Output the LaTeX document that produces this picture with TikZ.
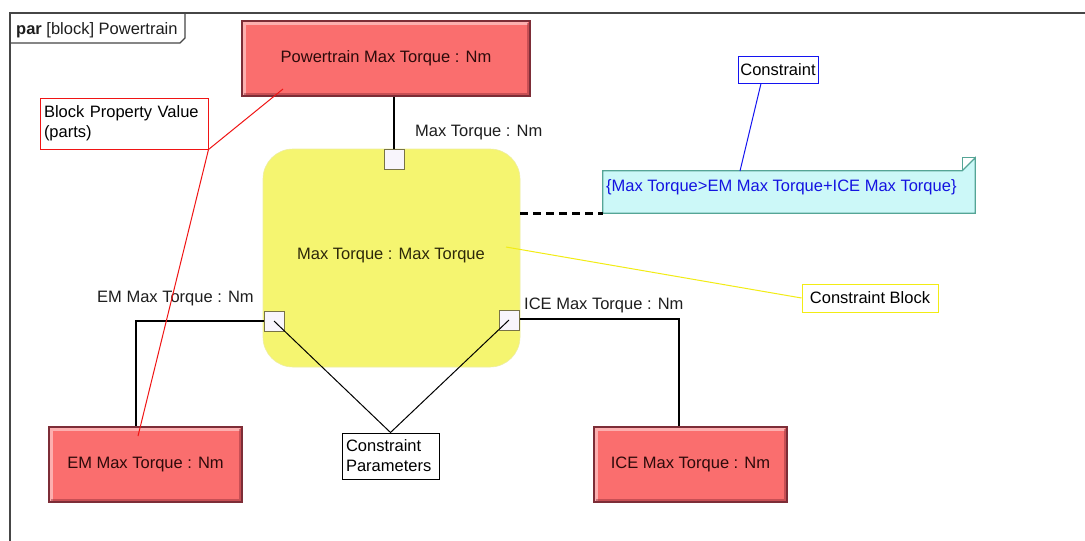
\documentclass[tikz,border=0pt]{standalone}
\usepackage{fontspec}
\setmainfont{Liberation Sans}
\definecolor{framegray}{RGB}{70,70,70}
\definecolor{valuefill}{RGB}{250,110,110}
\definecolor{valueedge}{RGB}{125,45,55}
\definecolor{valueshade}{RGB}{150,50,60}
\definecolor{valuetext}{RGB}{45,10,10}
\definecolor{cbfill}{RGB}{245,245,112}
\definecolor{cbedge}{RGB}{238,238,160}
\definecolor{cbtextc}{RGB}{45,40,10}
\definecolor{portfill}{RGB}{248,245,252}
\definecolor{portedge}{RGB}{120,115,70}
\definecolor{labeltext}{RGB}{30,30,30}
\definecolor{notefill}{RGB}{204,248,248}
\definecolor{noteedge}{RGB}{85,165,150}
\definecolor{notetext}{RGB}{20,20,225}
\definecolor{calred}{RGB}{240,20,20}
\definecolor{calblue}{RGB}{20,20,240}
\definecolor{calyellow}{RGB}{242,236,20}
\begin{document}
\begin{tikzpicture}[x=1pt,y=-1pt,
  every node/.style={font=\fontsize{16.5}{19}\selectfont, inner sep=0pt},
  valuebox/.style={rectangle, fill=valuefill, draw=valueedge, line width=1.2pt,
    minimum width=193pt, minimum height=75pt, text=valuetext,
    path picture={
      \draw[white, opacity=0.45, line width=4pt]
        ([xshift=2pt,yshift=-2pt]path picture bounding box.south west) |-
        ([xshift=-2pt,yshift=-2pt]path picture bounding box.north east);
      \draw[valueshade, opacity=0.5, line width=3pt]
        ([xshift=2pt,yshift=1.5pt]path picture bounding box.south west) -|
        ([xshift=-1.5pt,yshift=-2pt]path picture bounding box.north east);
    }},
  cblock/.style={rectangle, rounded corners=30pt, fill=cbfill, draw=cbedge, line width=0.6pt,
    minimum width=257pt, minimum height=218pt},
  port/.style={rectangle, fill=portfill, draw=portedge, line width=1pt,
    minimum width=20pt, minimum height=20pt},
  wire/.style={draw=black, line width=2.6pt},
  callout/.style={rectangle, fill=white, line width=1pt, align=left},
  plabel/.style={text=labeltext}
]
\useasboundingbox (0,0) rectangle (1085,541);
\fill[white] (0,0) rectangle (1085,541);

% diagram frame and its name tab
\draw[line width=1.6pt, framegray] (10,541) -- (10,13) -- (1085,13);
\draw[line width=1.2pt, framegray] (10,43) -- (180,43) -- (185,38) -- (185,13);
\node[anchor=west, plabel] (tab) at (16,30) {\textbf{par} [block] Powertrain};

% value properties
\node[valuebox, minimum width=288pt] (pt) at (386,58.5) {Powertrain Max Torque : Nm};
\node[valuebox] (em) at (145.5,464.5) {EM Max Torque : Nm};
\node[valuebox] (ice) at (690.5,464.5) {ICE Max Torque : Nm};

% constraint property
\node[cblock] (cb) at (391.5,258) {};
\node[text=cbtextc] (cbtext) at (391,256) {Max Torque : Max Torque};

% binding connectors
\node[port] (ptop) at (394,159) {};
\node[port] (pleft) at (274,321) {};
\node[port] (pright) at (509,320) {};
\draw[wire] (pt.south -| ptop.north) -- (ptop.north);
\draw[wire] (pleft.west) -| ([xshift=-9.5pt]em.north);
\draw[wire] ([yshift=1pt]pright.east) -| ([xshift=-11.5pt]ice.north);
\node[port] at (pleft) {};
\node[port] at (pright) {};
\node[port] at (ptop) {};

\node[anchor=west, plabel] (ltop) at (415,133) {Max Torque : Nm};
\node[anchor=west, plabel] (lem) at (97,299) {EM Max Torque : Nm};
\node[anchor=west, plabel] (lice) at (524,305) {ICE Max Torque : Nm};

% constraint note with folded corner
\node[minimum width=372pt, minimum height=42pt] (note) at (789,192) {};
\filldraw[fill=notefill, draw=noteedge, line width=1.2pt]
  (note.south west) -- (note.north west) -- ([xshift=-13pt]note.north east)
  -- ([yshift=13pt]note.north east) -- (note.south east) -- cycle;
\draw[noteedge, line width=1pt]
  ([xshift=-13pt]note.north east) -- ([xshift=-13pt,yshift=13pt]note.north east) -- ([yshift=13pt]note.north east);
\node[anchor=west, text=notetext] (ntext) at (606,187)
  {\{Max Torque>EM Max Torque+ICE Max Torque\}};
\draw[black, line width=2.6pt, dash pattern=on 8pt off 5pt] (cb.east |- note.south west) -- (note.south west);

% callouts
\node[callout, draw=calred, minimum width=168pt, minimum height=51pt,
  text width=160pt] (bpv) at (124,123.5) {Block Property Value\\[1pt](parts)};
\coordinate (bpvpt) at (283,89);
\coordinate (bpvem) at (138,436);
\draw[calred, line width=1pt] (bpvpt) -- (bpv.south east) -- (bpvem);

\node[callout, draw=calblue, minimum width=80pt, minimum height=27pt, align=center] (con) at (778,69.5) {Constraint};
\coordinate (connote) at (740,171);
\draw[calblue, line width=1pt] ([xshift=-17pt]con.south) -- (connote);

\node[callout, draw=calyellow, minimum width=136pt, minimum height=28pt, align=center] (cbl) at (870,298) {Constraint Block};
\coordinate (cbpt) at (506,247);
\draw[calyellow, line width=1pt] (cbl.west) -- (cbpt);

\node[callout, draw=black, minimum width=97pt, minimum height=46pt, text width=89pt] (cp) at (390.5,456) {Constraint\\[1pt]Parameters};
\draw[black, line width=1pt] (pleft.center) -- (cp.north) -- (pright.center);
\end{tikzpicture}
\end{document}
